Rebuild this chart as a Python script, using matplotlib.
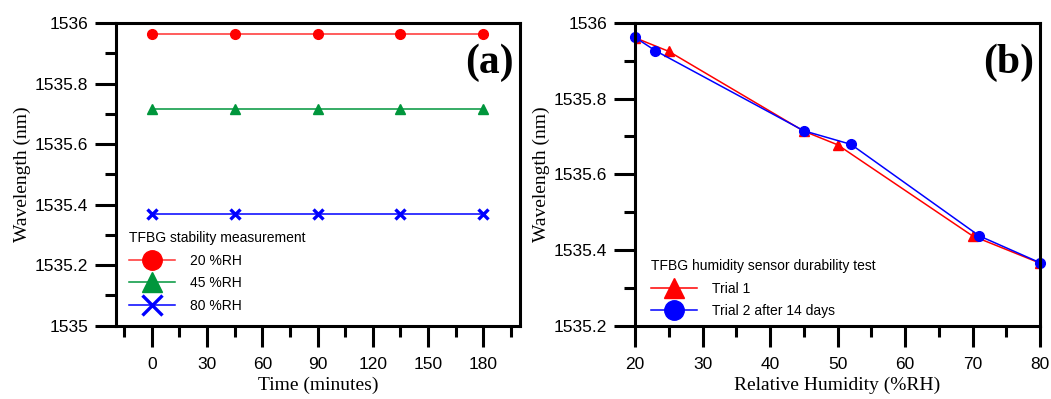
import matplotlib
matplotlib.use("Agg")
import matplotlib.pyplot as plt
from matplotlib.ticker import MultipleLocator, FuncFormatter

# panel (a): stability over time
time_min = [0, 45, 90, 135, 180]
wl_20rh = [1535.963, 1535.963, 1535.963, 1535.963, 1535.963]
wl_45rh = [1535.715, 1535.715, 1535.715, 1535.715, 1535.715]
wl_80rh = [1535.367, 1535.367, 1535.367, 1535.367, 1535.367]
labels_a = ["20 %RH", "45 %RH", "80 %RH"]

# panel (b): durability test
rh_trial1 = [20, 25, 45, 50, 70, 80]
wl_trial1 = [1535.961, 1535.925, 1535.714, 1535.678, 1535.437, 1535.365]
rh_trial2 = [20, 23, 45, 52, 71, 80]
wl_trial2 = [1535.962, 1535.927, 1535.715, 1535.679, 1535.437, 1535.366]
labels_b = ["Trial 1", "Trial 2 after 14 days"]

W, H = 1051, 399
SANS = ["Liberation Sans", "DejaVu Sans"]
SERIF = ["Liberation Serif", "DejaVu Serif"]
GREEN = "#00963c"

plt.rcParams["font.family"] = SANS
fig = plt.figure(figsize=(W / 100, H / 100), dpi=100)


def px_axes(l, t, r, b):
    return fig.add_axes([l / W, 1 - b / H, (r - l) / W, (b - t) / H])


def style(ax):
    for s in ax.spines.values():
        s.set_linewidth(2.2)
    ax.tick_params(which="major", direction="out", length=15, width=2.2, labelsize=12.5)
    ax.tick_params(which="minor", direction="out", length=8, width=2.2)
    ax.tick_params(axis="y", which="major", pad=5)
    ax.tick_params(axis="x", which="major", pad=8)
    ax.yaxis.set_major_formatter(FuncFormatter(lambda v, p: "{:g}".format(round(v, 3))))


leg_kw = dict(loc="upper left", bbox_transform=fig.transFigure, frameon=False,
              fontsize=10, title_fontsize=10, borderpad=0, handlelength=3.3,
              handletextpad=1.1, labelspacing=0.62, markerscale=2.0,
              alignment="left")

# ---- (a)
ax1 = px_axes(116, 23, 520, 325.5)
ax1.plot(time_min, wl_20rh, color="#ff3030", lw=1.1, marker="o", ms=7,
         mfc="red", mec="red", label=labels_a[0])
ax1.plot(time_min, wl_45rh, color=GREEN, lw=1.1, marker="^", ms=7,
         mfc=GREEN, mec=GREEN, label=labels_a[1])
ax1.plot(time_min, wl_80rh, color="blue", lw=1.1, marker="x", ms=7, mew=2.4,
         mfc="blue", mec="blue", label=labels_a[2])
ax1.set_xlim(-19.5, 200)
ax1.set_ylim(1535, 1536)
ax1.xaxis.set_major_locator(MultipleLocator(30))
ax1.xaxis.set_minor_locator(MultipleLocator(15))
ax1.yaxis.set_major_locator(MultipleLocator(0.2))
ax1.yaxis.set_minor_locator(MultipleLocator(0.1))
style(ax1)
ax1.set_xlabel("Time (minutes)", family=SERIF, fontsize=14, labelpad=3)
ax1.set_ylabel("Wavelength (nm)", family=SERIF, fontsize=14, labelpad=3)
ax1.text(0.985, 0.87, "(a)", transform=ax1.transAxes, ha="right", va="center",
         family=SERIF, fontweight="bold", fontsize=30)
ax1.legend(title="TFBG stability measurement",
           bbox_to_anchor=(122 / W, 1 - 224 / H), **leg_kw)

# ---- (b)
ax2 = px_axes(635, 23, 1040, 325.5)
ax2.plot(rh_trial1, wl_trial1, color="red", lw=1.1, marker="^", ms=7,
         label=labels_b[0])
ax2.plot(rh_trial2, wl_trial2, color="blue", lw=1.1, marker="o", ms=7,
         label=labels_b[1], clip_on=False)
ax2.set_xlim(20, 80)
ax2.set_ylim(1535.2, 1536)
ax2.xaxis.set_major_locator(MultipleLocator(10))
ax2.xaxis.set_minor_locator(MultipleLocator(5))
ax2.yaxis.set_major_locator(MultipleLocator(0.2))
ax2.yaxis.set_minor_locator(MultipleLocator(0.1))
style(ax2)
ax2.set_xlabel("Relative Humidity (%RH)", family=SERIF, fontsize=14, labelpad=3)
ax2.set_ylabel("Wavelength (nm)", family=SERIF, fontsize=14, labelpad=3)
ax2.text(0.985, 0.87, "(b)", transform=ax2.transAxes, ha="right", va="center",
         family=SERIF, fontweight="bold", fontsize=30)
ax2.legend(title="TFBG humidity sensor durability test",
           bbox_to_anchor=(644 / W, 1 - 252 / H), **leg_kw)

fig.savefig("out.png", dpi=100)
